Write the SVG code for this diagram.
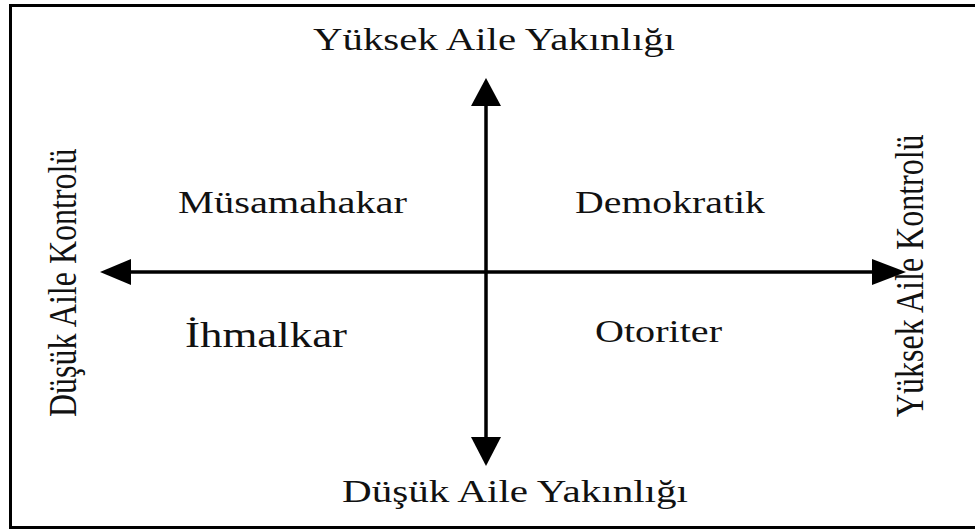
<svg xmlns="http://www.w3.org/2000/svg" width="975" height="530" viewBox="0 0 975 530">
<style>
.t{font-family:"Liberation Serif","Times New Roman",serif;fill:#111;font-size:32px}
.ln{stroke:#000;stroke-width:3.5;fill:none}
.hd{fill:#000}
</style>
<rect x="0" y="0" width="975" height="530" fill="#fff"/>
<rect id="frame" x="10.5" y="5.5" width="990" height="522" fill="none" stroke="#000" stroke-width="3"/>
<g id="connectors">
<line class="ln" x1="486" y1="100" x2="486" y2="442"/>
<polygon class="hd" points="486,78 501,106 471,106"/>
<polygon class="hd" points="486,466 501,437 471,437"/>
<line class="ln" x1="125" y1="272" x2="878" y2="272"/>
<polygon class="hd" points="100,272 131,259 131,285"/>
<polygon class="hd" points="906,272 872,259 872,285"/>
</g>
<g id="top-label"><text class="t" x="313" y="50" textLength="362" lengthAdjust="spacingAndGlyphs">Yüksek Aile Yakınlığı</text></g>
<g id="bottom-label"><text class="t" x="342" y="502" textLength="346" lengthAdjust="spacingAndGlyphs">Düşük Aile Yakınlığı</text></g>
<g id="left-label"><text class="t" transform="translate(76,417) scale(1.25,1) rotate(-90)" x="0" y="0">Düşük Aile Kontrolü</text></g>
<g id="right-label"><text class="t" transform="translate(923,417) scale(1.25,1) rotate(-90)" x="0" y="0">Yüksek Aile Kontrolü</text></g>
<g id="musamahakar"><text class="t" x="178" y="213" textLength="229" lengthAdjust="spacingAndGlyphs">Müsamahakar</text></g>
<g id="demokratik"><text class="t" x="575" y="213" textLength="190" lengthAdjust="spacingAndGlyphs">Demokratik</text></g>
<g id="ihmalkar"><text class="t" style="font-size:36px" x="185" y="347" textLength="162" lengthAdjust="spacingAndGlyphs">İhmalkar</text></g>
<g id="otoriter"><text class="t" x="595" y="342" textLength="127" lengthAdjust="spacingAndGlyphs">Otoriter</text></g>
</svg>
